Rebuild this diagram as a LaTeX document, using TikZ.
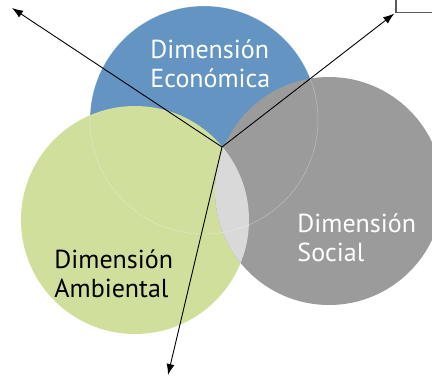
\documentclass[tikz,border=0pt]{standalone}
\usepackage{fontspec}
\setmainfont{PT Sans}
\usetikzlibrary{arrows.meta,positioning}
\definecolor{econblue}{RGB}{99,148,194}
\definecolor{ambgreen}{RGB}{208,223,156}
\definecolor{socgray}{RGB}{155,155,155}
\definecolor{lensgray}{RGB}{217,217,217}
\definecolor{boxgray}{RGB}{90,90,90}

\begin{document}
\begin{tikzpicture}[x=1pt, y=-1pt, >={Latex[length=11pt,width=8pt]}, line width=0.9pt]
    \tikzstyle{dim}=[circle, minimum size=228pt, inner sep=0pt]
    \tikzstyle{dimtext}=[align=left, anchor=base west, inner sep=0pt, font=\fontsize{26}{29}\selectfont]
    \useasboundingbox (0,0) rectangle (432,376);
    % the three circles
    \node[dim, fill=econblue] (econ) at (204,120) {};
    \node[dim, fill=ambgreen] (amb) at (135,220) {};
    \node[dim, fill=socgray] (soc) at (329,191) {};
    \begin{scope}
      \clip (amb.center) circle (114);
      \fill[lensgray] (soc.center) circle (114);
    \end{scope}
    \draw[white, opacity=.3, line width=.6pt] (econ.center) circle (114);
    % labels
    \node[dimtext, text=white] (econtext) at (150,87) {Dimensión\\Económica};
    \node[dimtext, text=white] (soctext) at (297,261) {Dimensión\\Social};
    \node[dimtext, text=black] (ambtext) at (54,297) {Dimensión\\Ambiental};
    % arrows
    \coordinate (hub) at (222,147);
    \coordinate (upleft) at (12,8);
    \coordinate (down) at (168,375);
    \node[draw=boxgray, line width=1.5pt, minimum width=80pt, minimum height=30pt, anchor=south west] (box) at (395,13) {};
    \draw[->] (hub) -- (upleft);
    \draw[->, shorten >=1pt] (hub) -- (box.south west);
    \draw[->] (hub) -- (down);
\end{tikzpicture}
\end{document}
